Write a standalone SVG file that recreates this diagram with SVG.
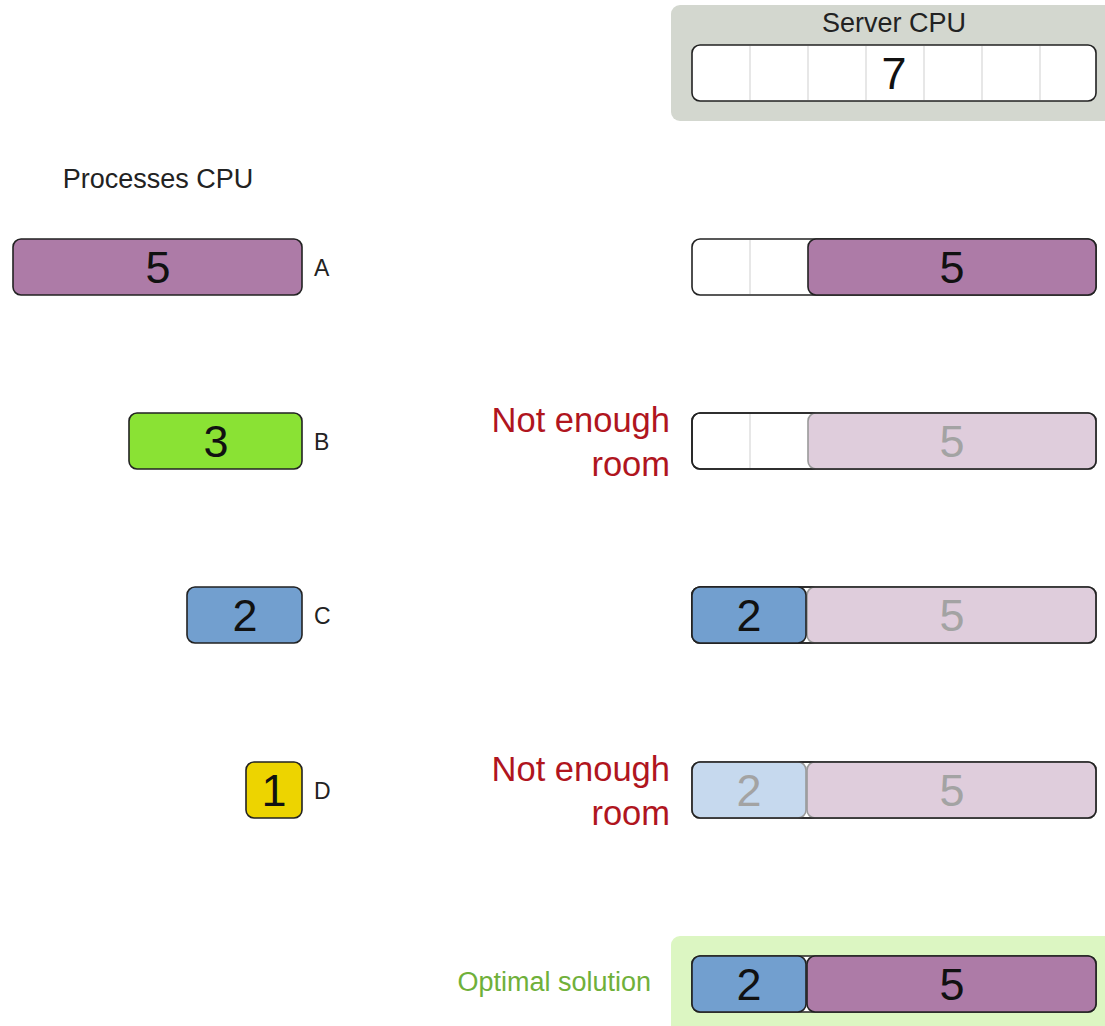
<svg xmlns="http://www.w3.org/2000/svg" width="1105" height="1026" viewBox="0 0 1105 1026">
  <style>
    text { font-family: "Liberation Sans", Arial, sans-serif; }
    .title { font-size: 27px; fill: #222; text-anchor: middle; }
    .digit { font-size: 45px; fill: #111; text-anchor: middle; }
    .digit.faded { fill: #a3a3a3; }
    .label { font-size: 23px; fill: #222; }
    .warn { font-size: 34.5px; fill: #b0151e; text-anchor: end; }
    .ok { font-size: 27px; fill: #6fb03a; text-anchor: end; }
    .bar { fill: #ffffff; stroke: #222; stroke-width: 1.6; }
    .rim { fill: none; stroke: #222; stroke-width: 1.6; }
    .cell { stroke: #cfcfcf; stroke-width: 1; }
    .proc { stroke: #222; stroke-width: 1.6; }
    .proc.faded { stroke: #9a9a9a; }
    .plum { fill: #ad7ba7; }
    .plum.faded { fill: #dfcddc; }
    .sky { fill: #729fcf; }
    .sky.faded { fill: #c6d9ee; }
    .lime { fill: #8ae234; }
    .butter { fill: #edd400; }
  </style>

  <!-- server capacity header -->
  <g id="server">
    <rect x="671" y="5" width="450" height="116" rx="9" fill="#d3d7cf"/>
    <text class="title" x="894" y="32">Server CPU</text>
    <rect class="bar" x="692" y="45" width="404" height="56" rx="8"/>
    <g class="cell">
      <line x1="750" y1="46" x2="750" y2="100"/>
      <line x1="808" y1="46" x2="808" y2="100"/>
      <line x1="866" y1="46" x2="866" y2="100"/>
      <line x1="924" y1="46" x2="924" y2="100"/>
      <line x1="982" y1="46" x2="982" y2="100"/>
      <line x1="1040" y1="46" x2="1040" y2="100"/>
    </g>
    <text class="digit" x="894" y="89">7</text>
  </g>

  <!-- processes to place -->
  <text class="title" x="158" y="188">Processes CPU</text>

  <g id="process-a">
    <rect class="proc plum" x="13" y="239" width="289" height="56" rx="8"/>
    <text class="digit" x="158" y="283">5</text>
    <text class="label" x="314" y="276">A</text>
  </g>
  <g id="process-b">
    <rect class="proc lime" x="129" y="413" width="173" height="56" rx="8"/>
    <text class="digit" x="216" y="457">3</text>
    <text class="label" x="314" y="450">B</text>
  </g>
  <g id="process-c">
    <rect class="proc sky" x="187" y="587" width="115" height="56" rx="8"/>
    <text class="digit" x="245" y="631">2</text>
    <text class="label" x="314" y="624">C</text>
  </g>
  <g id="process-d">
    <rect class="proc butter" x="246" y="762" width="56" height="56" rx="8"/>
    <text class="digit" x="274" y="806">1</text>
    <text class="label" x="314" y="799">D</text>
  </g>

  <!-- step 1: A placed -->
  <g id="step-a">
    <rect class="bar" x="692" y="239" width="404" height="56" rx="8"/>
    <line class="cell" x1="750" y1="240" x2="750" y2="294"/>
    <rect class="proc plum" x="808" y="239" width="288" height="56" rx="8"/>
    <text class="digit" x="952" y="283">5</text>
  </g>

  <!-- step 2: B does not fit -->
  <g id="step-b">
    <text class="warn" x="670" y="432">Not enough</text>
    <text class="warn" x="670" y="476">room</text>
    <rect class="bar" x="692" y="413" width="404" height="56" rx="8"/>
    <line class="cell" x1="750" y1="414" x2="750" y2="468"/>
    <rect class="proc plum faded" x="808" y="413" width="288" height="56" rx="8"/>
    <rect class="rim" x="692" y="413" width="404" height="56" rx="8"/>
    <text class="digit faded" x="952" y="457">5</text>
  </g>

  <!-- step 3: C placed -->
  <g id="step-c">
    <rect class="bar" x="692" y="587" width="404" height="56" rx="8"/>
    <rect class="proc plum faded" x="807" y="587" width="289" height="56" rx="8"/>
    <rect class="rim" x="692" y="587" width="404" height="56" rx="8"/>
    <rect class="proc sky" x="692" y="587" width="114" height="56" rx="8"/>
    <text class="digit" x="749" y="631">2</text>
    <text class="digit faded" x="952" y="631">5</text>
  </g>

  <!-- step 4: D does not fit -->
  <g id="step-d">
    <text class="warn" x="670" y="781">Not enough</text>
    <text class="warn" x="670" y="825">room</text>
    <rect class="bar" x="692" y="762" width="404" height="56" rx="8"/>
    <rect class="proc plum faded" x="807" y="762" width="289" height="56" rx="8"/>
    <rect class="proc sky faded" x="692" y="762" width="114" height="56" rx="8"/>
    <rect class="rim" x="692" y="762" width="404" height="56" rx="8"/>
    <text class="digit faded" x="749" y="806">2</text>
    <text class="digit faded" x="952" y="806">5</text>
  </g>

  <!-- result -->
  <g id="optimal">
    <rect x="671" y="936" width="450" height="110" rx="9" fill="#dcf6c2"/>
    <text class="ok" x="651" y="991">Optimal solution</text>
    <rect class="bar" x="692" y="956" width="404" height="56" rx="8"/>
    <rect class="proc plum" x="807" y="956" width="289" height="56" rx="8"/>
    <rect class="proc sky" x="692" y="956" width="114" height="56" rx="8"/>
    <text class="digit" x="749" y="1000">2</text>
    <text class="digit" x="952" y="1000">5</text>
  </g>

  <g id="connectors"/>
</svg>
